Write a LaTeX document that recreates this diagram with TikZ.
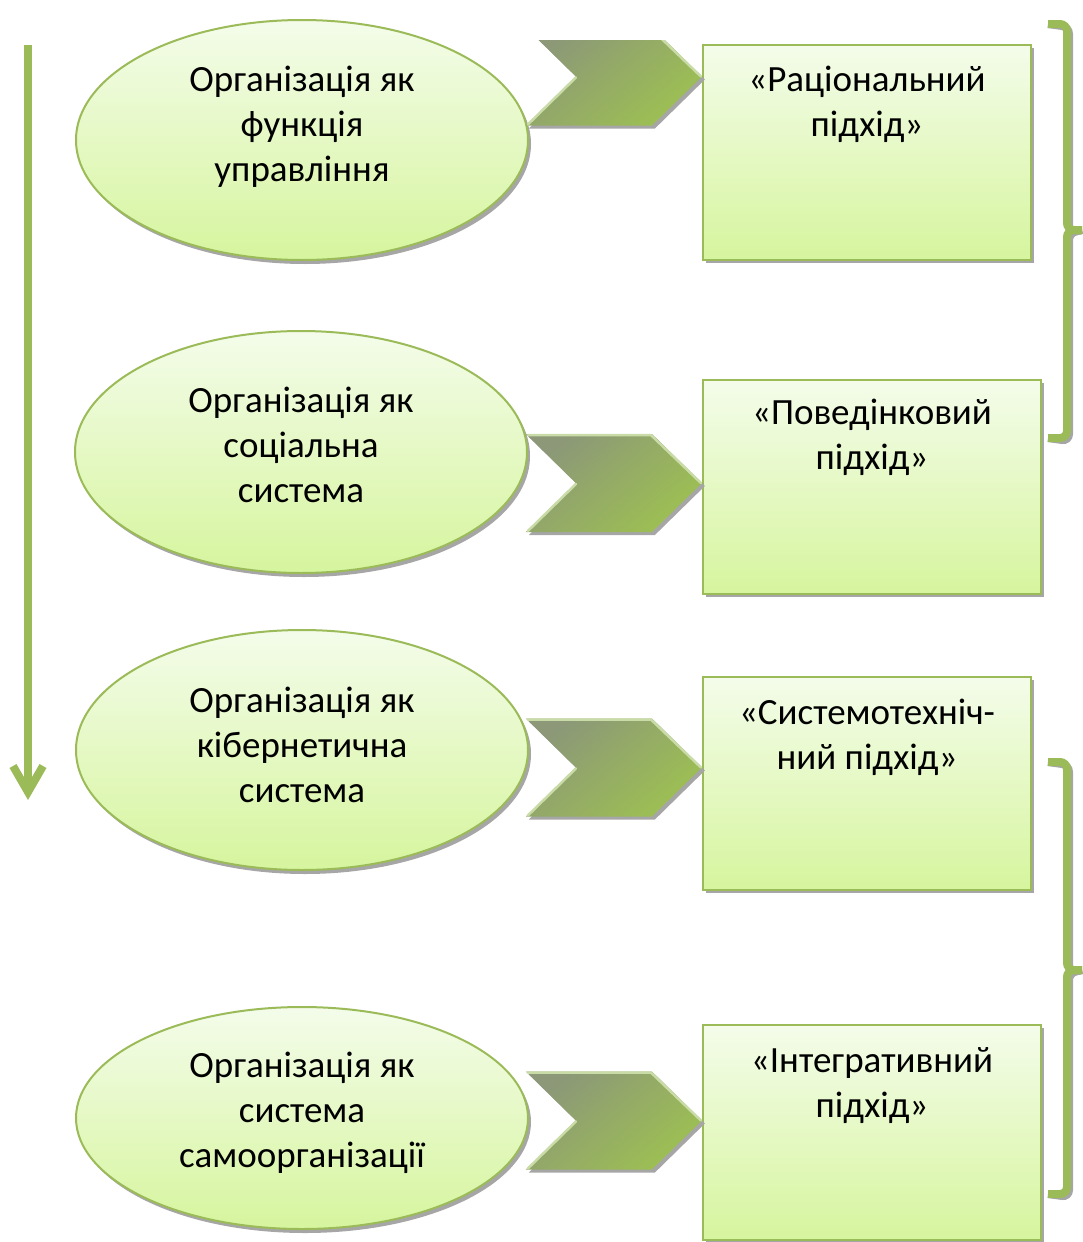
\documentclass[tikz,border=0pt]{standalone}
\usepackage{fontspec}
\setmainfont{Carlito}
\usetikzlibrary{shapes.geometric,shadows,calc}
\definecolor{olive}{HTML}{9BBB59}
\definecolor{fillTop}{HTML}{F4FCEA}
\definecolor{fillBot}{HTML}{D6F59E}
\definecolor{shadowgray}{HTML}{A6A6A6}
\definecolor{chevTop}{HTML}{8C9878}
\definecolor{chevBot}{HTML}{9DC052}
\definecolor{chevLight}{HTML}{C9DBA6}

\begin{document}
\begin{tikzpicture}[x=1pt,y=-1pt,
  label/.style={font=\fontsize{37}{45}\selectfont, align=center, inner sep=0pt},
  oval/.style={ellipse, draw=olive, line width=2pt, top color=fillTop, bottom color=fillBot,
    minimum width=452pt, inner sep=0pt,
    drop shadow={shadow xshift=3pt, shadow yshift=-4pt, fill=shadowgray, opacity=1}},
  approach/.style={rectangle, draw=olive, line width=2.2pt, top color=fillTop, bottom color=fillBot,
    inner sep=0pt,
    drop shadow={shadow xshift=3pt, shadow yshift=-3pt, fill=shadowgray, opacity=1}},
  flowline/.style={draw=olive, line width=8pt},
  bracket/.style={draw=olive, line width=8pt, rounded corners=7pt},
  bracketshadow/.style={draw=shadowgray, line width=8pt, rounded corners=7pt},
  chevron/.pic={
    \fill[shadowgray] (-173,-46) -- (-47,-46) -- (3,3) -- (-47,52) -- (-173,52) -- (-123,3) -- cycle;
    \shade[top color=chevTop, bottom color=chevBot, shading angle=40]
      (-176,-49) -- (-50,-49) -- (0,0) -- (-50,49) -- (-176,49) -- (-126,0) -- cycle;
    \draw[chevLight, line width=2.5pt, line cap=round]
      (-174,-48) -- (-51,-48) -- (-1,0);
    \draw[chevLight, line width=2.5pt, line cap=round]
      (-126,1) -- (-174,48);
  }
]
\useasboundingbox (0,0) rectangle (1082,1242);

% ---- organisation views (ellipses) ----
\node[oval, minimum height=240pt] (e1) at (302,140) {};
\node[oval, minimum height=242pt] (e2) at (301,452) {};
\node[oval, minimum height=240pt] (e3) at (302,750) {};
\node[oval, minimum height=222pt] (e4) at (302,1118) {};

\node[label] (t1) at (302,127) {Організація як\\функція\\управління};
\node[label] (t2) at (301,445) {Організація як\\соціальна\\система};
\node[label] (t3) at (302,745) {Організація як\\кібернетична\\система};
\node[label] (t4) at (302,1113) {Організація як\\система\\самоорганізації};

% ---- approaches (boxes) ----
\node[approach, minimum width=328pt, minimum height=215pt] (b1) at (867,152.5) {};
\node[approach, minimum width=338pt, minimum height=214pt] (b2) at (872,487) {};
\node[approach, minimum width=328pt, minimum height=213pt] (b3) at (867,783.5) {};
\node[approach, minimum width=338pt, minimum height=215pt] (b4) at (872,1132.5) {};

\node[label] (s1) at (867,104) {«Раціональний\\підхід»};
\node[label] (s2) at (872,437) {«Поведінковий\\підхід»};
\node[label] (s3) at (867,737) {«Системотехніч-\\ний підхід»};
\node[label] (s4) at (872,1086) {«Інтегративний\\підхід»};

% ---- chevrons from views to approaches ----
\begin{scope}
  \clip (500,40) rectangle (720,200);
  \pic at ($(b1.west)+(0,-76)$) {chevron};
\end{scope}
\pic at ($(b2.west)+(0,-4)$) {chevron};
\pic at ($(b3.west)+(0,-16)$) {chevron};
\pic at ($(b4.west)+(0,-12)$) {chevron};

% ---- vertical flow arrow ----
\coordinate (flowTop) at (28,45);
\coordinate (flowEnd) at (28,792);
\draw[flowline] (flowTop) -- (flowEnd);
\draw[flowline, line join=miter] ($(flowEnd)+(-15,-26)$) -- (flowEnd) -- ($(flowEnd)+(15,-26)$);

% ---- brackets grouping the approaches ----
\coordinate (g1top) at (1048,24);
\coordinate (g1mid) at (1082,230);
\coordinate (g1bot) at (1048,438);
\coordinate (g2top) at (1048,762);
\coordinate (g2mid) at (1082,970);
\coordinate (g2bot) at (1048,1194);

\begin{scope}[shift={(2pt,-3pt)}]
  \draw[bracketshadow] (g1top) -- (1067,24) -- (1067,230) -- (g1mid);
  \draw[bracketshadow] (g1mid) -- (1067,230) -- (1067,438) -- (g1bot);
  \draw[bracketshadow] (g2top) -- (1067,762) -- (1067,970) -- (g2mid);
  \draw[bracketshadow] (g2mid) -- (1067,970) -- (1067,1194) -- (g2bot);
\end{scope}
\draw[bracket] (g1top) -- (1067,24) -- (1067,230) -- (g1mid);
\draw[bracket] (g1mid) -- (1067,230) -- (1067,438) -- (g1bot);
\draw[bracket] (g2top) -- (1067,762) -- (1067,970) -- (g2mid);
\draw[bracket] (g2mid) -- (1067,970) -- (1067,1194) -- (g2bot);

\end{tikzpicture}
\end{document}
